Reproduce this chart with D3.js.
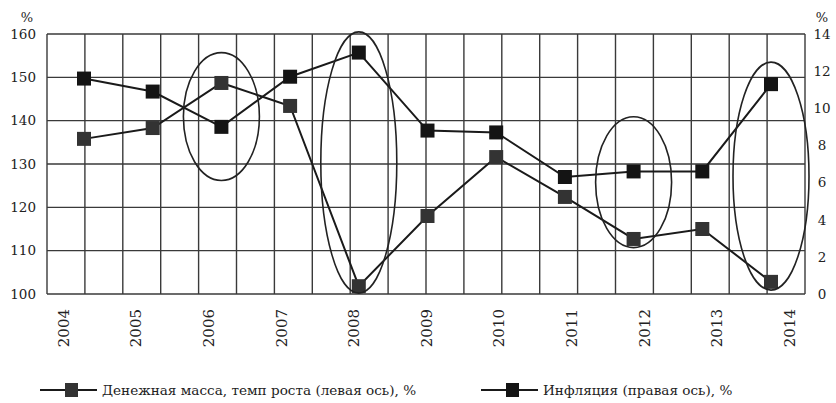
<!DOCTYPE html>
<html><head><meta charset="utf-8">
<script src="https://cdn.jsdelivr.net/npm/d3@7"></script>
<style>body{margin:0;background:#fff}svg{display:block}text{font-family:"DejaVu Serif",serif;fill:#222}</style>
</head><body><svg id="c" width="836" height="403"></svg>
<script>
const years = ["2004","2005","2006","2007","2008","2009","2010","2011","2012","2013","2014"];
const moneyGrowth = [135.8,138.3,148.7,143.4,101.8,118.0,131.6,122.4,112.7,115.0,102.8];
const inflation = [11.6,10.9,9.0,11.7,13.0,8.8,8.7,6.3,6.6,6.6,11.3];
const leftTicks = [100,110,120,130,140,150,160];
const rightTicks = [0,2,4,6,8,10,12,14];
const seriesNames = ["Денежная масса, темп роста (левая ось), %","Инфляция (правая ось), %"];
// highlighted groups: [year, low value on left scale, high value on left scale]
const highlightYears = ["2006","2008","2012","2014"];
const highlightLow = [126.2,100.2,110.7,100.9];
const highlightHigh = [155.7,160.5,140.9,153.5];

const svg = d3.select("#c");
const L=47,R=805,T=34,B=294;
const yL = d3.scaleLinear().domain([100,160]).range([B,T]);
const yR = d3.scaleLinear().domain([0,14]).range([B,T]);
const x = d3.scalePoint().domain(years).range([84,771]);
const xLab = d3.scalePoint().domain(years).range([63,789]);
const gx = d3.scaleLinear().domain([0,20]).range([L,R]);

// grid
const g = svg.append("g");
g.selectAll("line.v").data(d3.range(0,21)).join("line")
  .attr("x1",d=>gx(d)).attr("x2",d=>gx(d)).attr("y1",T).attr("y2",B)
  .attr("stroke","#3a3a3a").attr("stroke-width",1.4);
g.selectAll("line.h").data(leftTicks).join("line")
  .attr("x1",L).attr("x2",R).attr("y1",d=>yL(d)).attr("y2",d=>yL(d))
  .attr("stroke","#3a3a3a").attr("stroke-width",1.4);

// axes
const aL = svg.append("g").attr("transform",`translate(${L},0)`)
  .call(d3.axisLeft(yL).tickValues(leftTicks).tickSize(0).tickPadding(11));
aL.select(".domain").remove();
aL.selectAll("text").style("font-family","DejaVu Serif").style("font-size","13.5px").attr("fill","#222");
const aR = svg.append("g").attr("transform",`translate(${R},0)`)
  .call(d3.axisRight(yR).tickValues(rightTicks).tickSize(0).tickPadding(17));
aR.select(".domain").remove();
aR.selectAll("text").style("font-family","DejaVu Serif").style("font-size","13.5px").attr("fill","#222").attr("text-anchor","middle");
const aB = svg.append("g").attr("transform",`translate(0,${B})`)
  .call(d3.axisBottom(xLab).tickSize(0));
aB.select(".domain").remove();
aB.selectAll("text").style("font-family","DejaVu Serif").style("font-size","15px").attr("fill","#222")
  .attr("text-anchor","end").attr("transform","rotate(-90)").attr("x",-15).attr("y",0).attr("dy","0.35em");

svg.append("text").attr("x",27).attr("y",22).attr("text-anchor","middle").style("font-size","13px").text("%");
svg.append("text").attr("x",822).attr("y",22).attr("text-anchor","middle").style("font-size","13px").text("%");

// lines
const lineM = d3.line().x((d,i)=>x(years[i])).y(d=>yL(d));
const lineI = d3.line().x((d,i)=>x(years[i])).y(d=>yR(d));
svg.append("path").attr("d",lineM(moneyGrowth)).attr("fill","none").attr("stroke","#1a1a1a").attr("stroke-width",2);
svg.append("path").attr("d",lineI(inflation)).attr("fill","none").attr("stroke","#1a1a1a").attr("stroke-width",2);
const s=14;
svg.selectAll("rect.m").data(moneyGrowth).join("rect")
  .attr("x",(d,i)=>x(years[i])-s/2).attr("y",d=>yL(d)-s/2).attr("width",s).attr("height",s).attr("fill","#333");
svg.selectAll("rect.i").data(inflation).join("rect")
  .attr("x",(d,i)=>x(years[i])-s/2).attr("y",d=>yR(d)-s/2).attr("width",s).attr("height",s).attr("fill","#141414");

// ellipses
svg.selectAll("ellipse").data(highlightYears).join("ellipse")
  .attr("cx",d=>x(d)).attr("cy",(d,i)=>(yL(highlightLow[i])+yL(highlightHigh[i]))/2)
  .attr("rx",38).attr("ry",(d,i)=>(yL(highlightLow[i])-yL(highlightHigh[i]))/2)
  .attr("fill","none").attr("stroke","#222").attr("stroke-width",1.6);

// legend
const leg = [{x0:40,name:seriesNames[0],fill:"#333"},{x0:481,name:seriesNames[1],fill:"#141414"}];
const ly=390;
leg.forEach(o=>{
  svg.append("line").attr("x1",o.x0).attr("x2",o.x0+57).attr("y1",ly).attr("y2",ly).attr("stroke","#1a1a1a").attr("stroke-width",2);
  svg.append("rect").attr("x",o.x0+25).attr("y",ly-7).attr("width",13).attr("height",14).attr("fill",o.fill);
  svg.append("text").attr("x",o.x0+62).attr("y",ly).attr("dy","0.35em").style("font-size","13.6px").text(o.name);
});
</script></body></html>
